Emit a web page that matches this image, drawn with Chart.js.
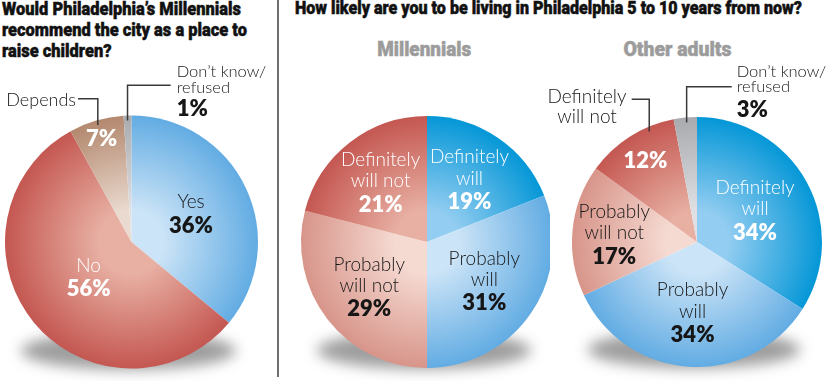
<!DOCTYPE html>
<html>
<head>
<meta charset="utf-8">
<script src="https://cdn.jsdelivr.net/npm/chart.js@4.4.0/dist/chart.umd.min.js"></script>
<style>
html,body{margin:0;padding:0;background:#fff;}
#wrap{position:relative;width:830px;height:381px;overflow:hidden;background:#fff;}
canvas{position:absolute;}
.t{position:absolute;white-space:nowrap;font-family:Roboto,"Liberation Sans",sans-serif;font-weight:900;color:#111;-webkit-text-stroke:0.5px #111;}
.t .fit{display:inline-block;transform-origin:0 0;}
.sub{color:#9c9c9c;-webkit-text-stroke:0.5px #9c9c9c;text-align:center;width:200px;}
.sub .fit{transform-origin:50% 0;}
#divider{position:absolute;left:277px;top:0;width:2px;height:377px;background:#6e6e6e;}
</style>
</head>
<body>
<div id="wrap">
  <div class="t" style="left:2px;top:-2.3px;font-size:19px;line-height:21px;"><span class="fit" data-w="245">Would Philadelphia’s Millennials<br>recommend the city as a place to<br>raise children?</span></div>
  <div class="t" style="left:295px;top:-2px;font-size:17.5px;line-height:20px;"><span class="fit" data-w="507">How likely are you to be living in Philadelphia 5 to 10 years from now?</span></div>
  <div class="t sub" style="left:324.5px;top:36.8px;font-size:21px;line-height:24px;"><span class="fit" data-w="94">Millennials</span></div>
  <div class="t sub" style="left:577.5px;top:36.8px;font-size:21px;line-height:24px;"><span class="fit" data-w="108">Other adults</span></div>
  <div id="divider"></div>
  <canvas id="c1" width="276" height="331" style="left:0px;top:50px;"></canvas>
  <canvas id="c2" width="265" height="286" style="left:285px;top:95px;"></canvas>
  <canvas id="c3" width="290" height="326" style="left:540px;top:55px;"></canvas>
</div>
<script>
// ---------- DATA ----------
const recommendLabels = [['Yes'], ['No'], ['Depends'], ['Don’t know/', 'refused']];
const recommendValues = [36, 56, 7, 1];

const stayLabelsMillennials = [['Definitely', 'will'], ['Probably', 'will'], ['Probably', 'will not'], ['Definitely', 'will not']];
const millennialValues = [19, 31, 29, 21];

const stayLabelsOther = [['Definitely', 'will'], ['Probably', 'will'], ['Probably', 'will not'], ['Definitely', 'will not'], ['Don’t know/', 'refused']];
const otherAdultValues = [34, 34, 17, 12, 3];

// ---------- STYLES ----------
const C = {
  blue:  ['#cce4f7', '#62ace3'],
  vivid: ['#93cdf1', '#0597d7'],
  pink:  ['#f5dad2', '#d8958a'],
  red:   ['#e8b0a3', '#c45751'],
  tan:   ['#eadacf', '#b3886e'],
  grey:  ['#dfe0e3', '#a8aaae']
};
const WHITE = '#ffffff', DARK = '#161616';
const FONT_FAMILY = 'Lato, "Open Sans", "DejaVu Sans", sans-serif';

function radialFill(keys) {
  return (c) => {
    const chart = c.chart;
    const area = chart.chartArea;
    const pair = C[keys[c.dataIndex]];
    if (!area) return pair[1];
    const cx = (area.left + area.right) / 2, cy = (area.top + area.bottom) / 2;
    const R = c.dataset.radius;
    const g = chart.ctx.createRadialGradient(cx, cy, 0, cx, cy, R);
    g.addColorStop(0, pair[0]);
    g.addColorStop(0.25, pair[0]);
    g.addColorStop(1, pair[1]);
    return g;
  };
}

function fillLines(ctx, lines, x, y, lh, size, color, align) {
  ctx.font = `300 ${size}px ${FONT_FAMILY}`;
  ctx.fillStyle = color;
  ctx.textAlign = align;
  ctx.textBaseline = 'middle';
  lines.forEach((ln, k) => ctx.fillText(ln, x, y + k * lh));
}
function fillPct(ctx, txt, x, y, color, align) {
  ctx.font = `800 22px ${FONT_FAMILY}`;
  ctx.fillStyle = color;
  ctx.textAlign = align;
  ctx.textBaseline = 'middle';
  ctx.fillText(txt, x, y);
}

const pieLabels = {
  id: 'pieLabels',
  beforeDatasetsDraw(chart) {
    const arc = chart.getDatasetMeta(0).data[0];
    if (!arc) return;
    const {x, y, outerRadius: R} = arc.getProps(['x', 'y', 'outerRadius'], true);
    const ctx = chart.ctx;
    ctx.save();
    ctx.filter = 'blur(7px)';
    ctx.fillStyle = 'rgba(40,40,40,0.45)';
    ctx.beginPath();
    ctx.ellipse(x - 3, y + R * 0.86, R * 0.85, R * 0.15, 0, 0, Math.PI * 2);
    ctx.fill();
    ctx.restore();
  },
  afterDatasetsDraw(chart, args, opts) {
    const meta = chart.getDatasetMeta(0);
    const values = chart.data.datasets[0].data;
    const names = chart.data.labels;
    const ctx = chart.ctx;
    ctx.save();
    (opts.items || []).forEach(it => {
      const arc = meta.data[it.index];
      const {x, y, startAngle, endAngle, outerRadius: R} =
        arc.getProps(['x', 'y', 'startAngle', 'endAngle', 'outerRadius'], true);
      const mid = (startAngle + endAngle) / 2;
      const pct = values[it.index] + '%';
      const lines = names[it.index];
      if (it.r !== undefined) {
        const ax = x + Math.cos(mid) * R * it.r;
        const ay = y + Math.sin(mid) * R * it.r;
        if (it.callout) {
          fillPct(ctx, pct, ax, ay, it.color, 'center');
        } else {
          const LH = 21.5, GAP = 23.3;
          const total = (lines.length - 1) * LH + GAP;
          const y0 = ay - total / 2;
          fillLines(ctx, lines, ax, y0, LH, 19, it.color, 'center');
          fillPct(ctx, pct, ax, y0 + total, it.color, 'center');
        }
      }
      if (it.callout) {
        const co = it.callout;
        const a = startAngle + co.frac * (endAngle - startAngle);
        const ex = x + Math.cos(a) * R;
        const ey = y + Math.sin(a) * R;
        ctx.strokeStyle = '#3a3a3a';
        ctx.lineWidth = 1.5;
        ctx.beginPath();
        ctx.moveTo(ex, ey + 5);
        ctx.lineTo(ex, y + co.elbowDy);
        ctx.lineTo(x + co.lineEndDx, y + co.elbowDy);
        ctx.stroke();
        fillLines(ctx, lines, x + co.textDx, y + co.textDy, co.lh, co.size, DARK, co.align);
        if (it.r === undefined) {
          fillPct(ctx, pct, x + co.textDx, y + co.textDy + (lines.length - 1) * co.lh + co.pctGap, DARK, co.align);
        }
      }
    });
    ctx.restore();
  }
};

function padFor(canvas, cx, cy) {
  const w = canvas.width, h = canvas.height;
  const left = parseFloat(canvas.style.left), top = parseFloat(canvas.style.top);
  const x = cx - left, y = cy - top;
  return {
    left: Math.max(0, 2 * x - w), right: Math.max(0, w - 2 * x),
    top: Math.max(0, 2 * y - h), bottom: Math.max(0, h - 2 * y)
  };
}

function makePie(id, labels, values, colorKeys, center, R, items) {
  const canvas = document.getElementById(id);
  return new Chart(canvas, {
    type: 'pie',
    data: {
      labels: labels,
      datasets: [{
        data: values,
        radius: R,
        backgroundColor: radialFill(colorKeys),
        borderWidth: 0,
        hoverBorderWidth: 0,
        hoverOffset: 0
      }]
    },
    options: {
      responsive: false,
      animation: false,
      events: [],
      layout: { padding: padFor(canvas, center[0], center[1]) },
      plugins: {
        legend: { display: false },
        tooltip: { enabled: false },
        pieLabels: { items: items }
      }
    },
    plugins: [pieLabels]
  });
}

makePie('c1', recommendLabels, recommendValues, ['blue', 'red', 'tan', 'grey'], [131.5, 242], 126.5, [
  { index: 0, r: 0.52, color: DARK },
  { index: 1, r: 0.44, color: WHITE },
  { index: 2, r: 0.85, color: WHITE,
    callout: { frac: 0.53, elbowDy: -143.3, lineEndDx: -53.5, textDx: -55.5, textDy: -142, align: 'right', size: 18, lh: 0 } },
  { index: 3,
    callout: { frac: 0.5, elbowDy: -156.7, lineEndDx: 39.2, textDx: 45.2, textDy: -170.3, align: 'left', size: 16.5, lh: 15.6, pctGap: 21.7 } }
]);

makePie('c2', stayLabelsMillennials, millennialValues, ['vivid', 'blue', 'pink', 'red'], [427, 242], 126, [
  { index: 0, r: 0.6, color: WHITE },
  { index: 1, r: 0.55, color: DARK },
  { index: 2, r: 0.58, color: DARK },
  { index: 3, r: 0.6, color: WHITE }
]);

makePie('c3', stayLabelsOther, otherAdultValues, ['vivid', 'blue', 'pink', 'red', 'grey'], [697, 242], 125, [
  { index: 0, r: 0.53, color: WHITE },
  { index: 1, r: 0.565, color: DARK },
  { index: 2, r: 0.665, color: DARK },
  { index: 3, r: 0.77, color: WHITE,
    callout: { frac: 0.73, elbowDy: -142.7, lineEndDx: -65.3, textDx: -110, textDy: -144.7, align: 'center', size: 19, lh: 19.4 } },
  { index: 4,
    callout: { frac: 0.56, elbowDy: -155.3, lineEndDx: 34.7, textDx: 39.7, textDy: -170.3, align: 'left', size: 16.5, lh: 15, pctGap: 23.3 } }
]);

// fit title widths
function fitTitles() {
  document.querySelectorAll('.fit').forEach(el => {
    el.style.transform = 'none';
    const w = el.getBoundingClientRect().width;
    const target = parseFloat(el.dataset.w);
    if (w > 0) el.style.transform = `scaleX(${target / w})`;
  });
}
fitTitles();
if (document.fonts && document.fonts.ready) document.fonts.ready.then(fitTitles);
</script>
</body>
</html>
